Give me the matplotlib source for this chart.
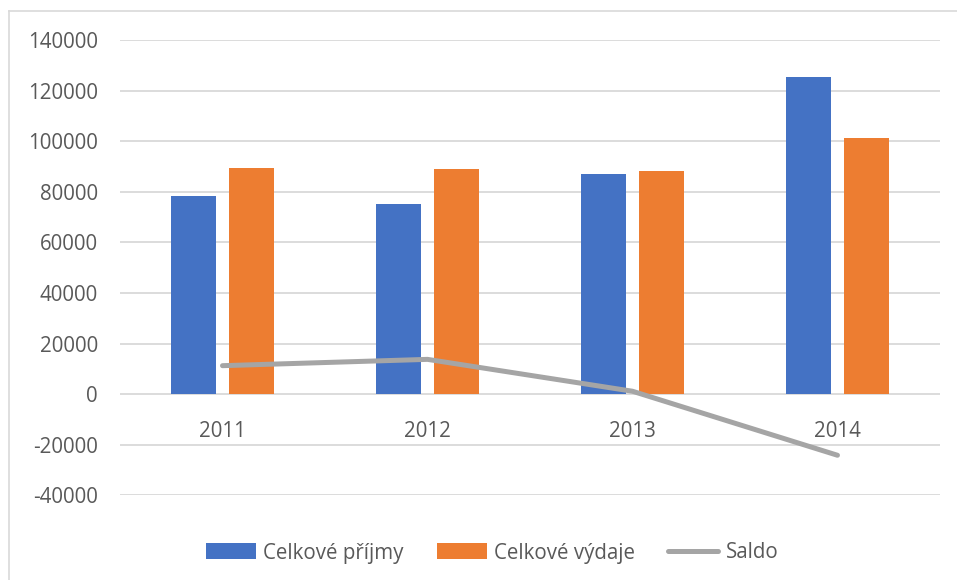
import numpy as np
import matplotlib
matplotlib.use("Agg")
import matplotlib.pyplot as plt
from matplotlib.lines import Line2D

plt.rcParams["font.family"] = ["Open Sans", "DejaVu Sans"]

# data
years = ["2011", "2012", "2013", "2014"]
prijmy = [78300, 75100, 87050, 125550]
vydaje = [89600, 88900, 88250, 101450]
saldo = [11300, 13800, 1200, -24100]

y_ticks = [-40000, -20000, 0, 20000, 40000, 60000, 80000, 100000, 120000, 140000]

BLUE = "#4472C4"
ORANGE = "#ED7D31"
GRAY = "#A5A5A5"
TEXT = "#595959"
GRID = "#D9D9D9"


def main():
    fig = plt.figure(figsize=(9.57, 5.8), dpi=100)
    ax = fig.add_axes([0.1254, 0.1457, 0.8568, 0.7853])

    x = np.arange(len(years))
    w = 0.222
    off = 0.1415

    b1 = ax.bar(x - off, prijmy, w, color=BLUE, label="Celkové příjmy", zorder=3)
    b2 = ax.bar(x + off, vydaje, w, color=ORANGE, label="Celkové výdaje", zorder=3)
    ln, = ax.plot(x, saldo, color=GRAY, lw=3.6, solid_capstyle="round",
                  label="Saldo", zorder=4)

    ax.set_xlim(-0.5, 3.5)
    ax.set_ylim(-40000, 140000)
    ax.set_yticks(y_ticks)
    ax.set_yticklabels([str(v) for v in y_ticks])
    ax.yaxis.grid(True, color=GRID, lw=1.3, zorder=0)
    ax.set_axisbelow(True)

    for s in ax.spines.values():
        s.set_visible(False)
    ax.spines["bottom"].set_position(("data", 0))

    ax.set_xticks(x)
    ax.set_xticklabels(years)
    ax.tick_params(axis="both", length=0, labelsize=14.8, colors=TEXT)
    ax.tick_params(axis="y", pad=16)
    ax.tick_params(axis="x", pad=19)

    fig.legend([b1, b2, ln], ["Celkové příjmy", "Celkové výdaje", "Saldo"],
               loc="center", bbox_to_anchor=(492 / 957, 1 - 553 / 580),
               ncol=3, frameon=False, fontsize=14.8, labelcolor=TEXT,
               handlelength=2.45, handleheight=0.8, handletextpad=0.35,
               columnspacing=1.6)

    # chart area border (only top and left visible in the crop)
    fig.add_artist(Line2D([9 / 957, 1], [1 - 11 / 580, 1 - 11 / 580],
                          color=GRID, lw=1.2, transform=fig.transFigure))
    fig.add_artist(Line2D([9 / 957, 9 / 957], [0, 1 - 11 / 580],
                          color=GRID, lw=1.2, transform=fig.transFigure))

    fig.savefig("out.png", dpi=100, facecolor="white")


if __name__ == "__main__":
    main()
